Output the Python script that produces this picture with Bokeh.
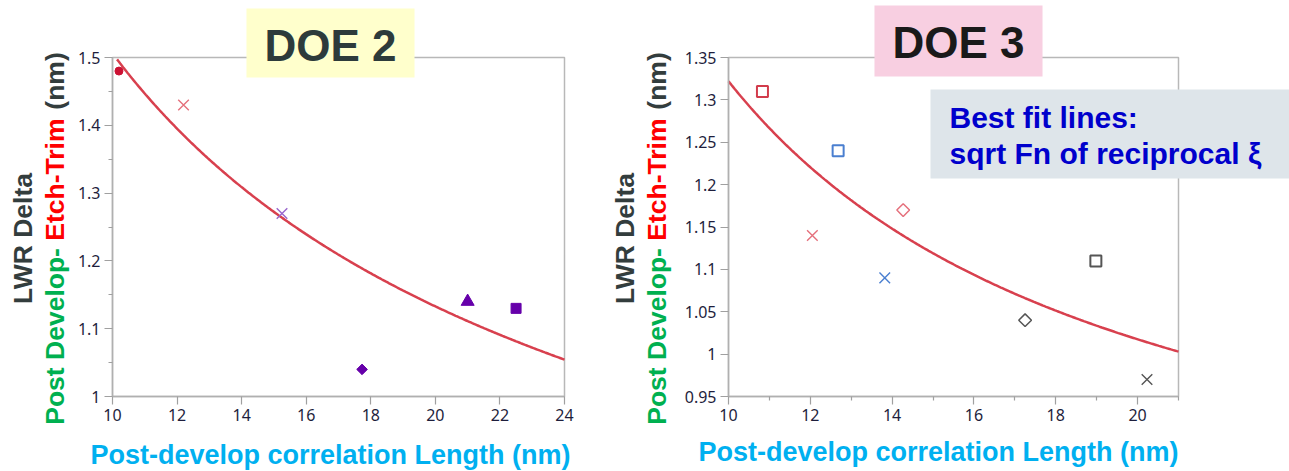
import numpy as np
from bokeh.plotting import figure
from bokeh.models import Label, FixedTicker, NumeralTickFormatter, LinearAxis, Range1d
from bokeh.layouts import row
from bokeh.embed import file_html
from bokeh.resources import INLINE

# ---------------- data ----------------
# DOE 2: LWR delta vs post-develop correlation length
doe2_x = [10.2, 12.2, 15.25, 17.73, 21.0, 22.5]
doe2_y = [1.48, 1.43, 1.27, 1.04, 1.14, 1.13]
doe2_marker = ["circle", "x", "x", "diamond", "triangle", "square"]
doe2_color = ["#cc1133", "#e5707c", "#9966cc", "#6600aa", "#6600aa", "#6600aa"]

# DOE 3
doe3_x = [10.83, 12.68, 12.05, 14.27, 13.82, 17.25, 18.98, 20.23]
doe3_y = [1.31, 1.24, 1.14, 1.17, 1.09, 1.04, 1.11, 0.97]
doe3_marker = ["square", "square", "x", "diamond", "x", "diamond", "square", "x"]
doe3_color = ["#d23c4c", "#4a7fd0", "#e5707c", "#e5707c", "#4a7fd0", "#555555", "#555555", "#555555"]

# best-fit curves  y = a + b * x**(-p)
doe2_fit = {"a": 0.232, "b": 4.029, "p": 0.5}
doe3_fit = {"a": 0.713, "b": 6.09, "p": 1.0}

# axis extents and ticks
doe2_xlim, doe2_ylim = (10, 24), (1.0, 1.5)
doe3_xlim, doe3_ylim = (10, 21), (0.95, 1.35)
doe2_xticks = [10, 12, 14, 16, 18, 20, 22, 24]
doe2_yticks = [1.0, 1.1, 1.2, 1.3, 1.4, 1.5]
doe2_yminor = [1.05, 1.15, 1.25, 1.35, 1.45]
doe3_xticks = [10, 12, 14, 16, 18, 20]
doe3_xminor = [11, 13, 15, 17, 19, 21]
doe3_yticks = [0.95, 1.0, 1.05, 1.1, 1.15, 1.2, 1.25, 1.3, 1.35]

x_title = "Post-develop correlation Length (nm)"
y_title_top = "LWR Delta"
y_title_parts = [("Post Develop- ", "#00b050"), ("Etch-Trim ", "#ff0000"), ("(nm)", "#333d3d")]

BOLD = "Liberation Sans"
TICKFONT = "Noto Sans"
H = 471

# Arial-bold advance widths (per 1000 em) for laying out coloured segments
_W = {"P": 667, "o": 611, "s": 556, "t": 333, " ": 278, "D": 722, "e": 556, "v": 556,
      "l": 278, "p": 611, "-": 333, "E": 667, "c": 556, "h": 611, "T": 611, "r": 389,
      "i": 278, "m": 889, "(": 333, "n": 611, ")": 333}


def text_width(s, size):
    return sum(_W.get(ch, 556) for ch in s) * size / 1000.0


class Panel:
    """A canvas whose data ranges place the plot box at a given pixel rectangle."""

    def __init__(self, width, box, xlim, ylim):
        self.width = width
        left, top, right, bottom = box
        self.sx = (xlim[1] - xlim[0]) / (right - left)
        self.sy = (ylim[1] - ylim[0]) / (bottom - top)
        self.x0 = xlim[0] - left * self.sx
        self.y1 = ylim[1] + top * self.sy
        xr = Range1d(self.x0, self.x0 + width * self.sx)
        yr = Range1d(self.y1 - H * self.sy, self.y1)
        p = figure(width=width, height=H, x_range=xr, y_range=yr,
                   x_axis_location=None, y_axis_location=None,
                   min_border=0, output_backend="svg", toolbar_location=None)
        p.xgrid.visible = False
        p.ygrid.visible = False
        p.outline_line_color = None
        p.background_fill_color = "white"
        p.border_fill_color = "white"
        # plot box outline
        p.quad(left=[xlim[0]], right=[xlim[1]], bottom=[ylim[0]], top=[ylim[1]],
               fill_color=None, line_color="#b8b8b8", line_width=1.5)
        xa = LinearAxis(fixed_location=ylim[0], bounds=xlim)
        ya = LinearAxis(fixed_location=xlim[0], bounds=ylim)
        for ax in (xa, ya):
            ax.axis_line_color = "#b0b0b0"
            ax.axis_line_width = 1.5
            ax.major_tick_line_color = "#a0a0a0"
            ax.minor_tick_line_color = "#a0a0a0"
            ax.major_tick_line_width = 1.2
            ax.minor_tick_line_width = 1.2
            ax.major_tick_in = 0
            ax.major_tick_out = 8
            ax.minor_tick_in = 0
            ax.minor_tick_out = 4
            ax.major_label_text_font = TICKFONT
            ax.major_label_text_font_size = "16px"
            ax.major_label_text_color = "#1e1e3c"
            ax.major_label_standoff = 4
            ax.formatter = NumeralTickFormatter(format="0.[00]")
        p.add_layout(xa, "below")
        p.add_layout(ya, "left")
        self.p, self.xa, self.ya = p, xa, ya

    def text(self, px, py, text, size, color, align="center", baseline="alphabetic",
             angle=0.0, **kw):
        lab = Label(x=self.x0 + px * self.sx, y=self.y1 - py * self.sy, text=text,
                    text_font=BOLD, text_font_style="bold", text_font_size=f"{size}px",
                    text_color=color, text_align=align, text_baseline=baseline,
                    angle=angle, **kw)
        self.p.add_layout(lab)
        return lab

    def axis_titles(self, x_center, x_base, y_base1, y_base2, y_center):
        self.text(x_center, x_base, x_title, 27, "#00b0f0")
        self.text(y_base1, y_center, y_title_top, 26.5, "#333d3d", angle=np.pi / 2)
        total = sum(text_width(s, 26.5) for s, _ in y_title_parts)
        pos = y_center + total / 2
        for s, col in y_title_parts:
            self.text(y_base2, pos, s, 26.5, col, align="left", angle=np.pi / 2)
            pos -= text_width(s, 26.5)


def fit_curve(fit, xlim, ylim, n=300):
    cx = np.linspace(xlim[0], xlim[1], n)
    cy = fit["a"] + fit["b"] * cx ** (-fit["p"])
    keep = (cy <= ylim[1]) & (cy >= ylim[0])
    return cx[keep], cy[keep]


# ---------------- DOE 2 ----------------
a = Panel(600, (112, 57, 564, 396), doe2_xlim, doe2_ylim)
a.xa.ticker = FixedTicker(ticks=doe2_xticks, minor_ticks=[])
a.ya.ticker = FixedTicker(ticks=doe2_yticks, minor_ticks=doe2_yminor)

cx, cy = fit_curve(doe2_fit, doe2_xlim, doe2_ylim)
a.p.line(cx, cy, line_color="#d8404e", line_width=2.5)

for xv, yv, mk, col in zip(doe2_x, doe2_y, doe2_marker, doe2_color):
    if mk == "x":
        a.p.scatter([xv], [yv], marker="x", size=15, line_color=col, line_width=1.4)
    elif mk == "diamond":
        a.p.scatter([xv], [yv], marker="square", angle=np.pi / 4, size=7.5,
                    fill_color=col, line_color=col)
    elif mk == "circle":
        a.p.scatter([xv], [yv], marker="circle", size=8, fill_color=col, line_color=col)
    elif mk == "triangle":
        a.p.scatter([xv], [yv], marker="triangle", size=13, fill_color=col, line_color=col)
    else:
        a.p.scatter([xv], [yv], marker="square", size=10, fill_color=col, line_color=col)

a.axis_titles(330, 454, 22, 54, 238)
a.text(330, 42.5, "DOE 2", 44, "#2d3b3b", baseline="middle",
       background_fill_color="#ffffcc", padding=(18, 18, 12, 8), level="overlay")

# ---------------- DOE 3 ----------------
# this canvas starts at page x = 600
b = Panel(689, (128, 57, 578, 396), doe3_xlim, doe3_ylim)
b.xa.ticker = FixedTicker(ticks=doe3_xticks, minor_ticks=doe3_xminor)
b.ya.ticker = FixedTicker(ticks=doe3_yticks, minor_ticks=[])

cx3, cy3 = fit_curve(doe3_fit, doe3_xlim, doe3_ylim)
b.p.line(cx3, cy3, line_color="#d8404e", line_width=2.5)

for xv, yv, mk, col in zip(doe3_x, doe3_y, doe3_marker, doe3_color):
    if mk == "x":
        b.p.scatter([xv], [yv], marker="x", size=15, line_color=col, line_width=1.4)
    elif mk == "diamond":
        b.p.scatter([xv], [yv], marker="square", angle=np.pi / 4, size=9,
                    fill_color=None, line_color=col, line_width=1.5)
    else:
        b.p.scatter([xv], [yv], marker="square", size=11, fill_color=None,
                    line_color=col, line_width=2)

b.axis_titles(338, 451, 24, 56, 238)
b.text(358, 40.5, "DOE 3", 44, "#1a1a1a", baseline="middle",
       background_fill_color="#f8cfe1", padding=(18, 18, 12, 10), level="overlay")
b.text(330, 89, "Best fit lines:\nsqrt Fn of reciprocal \u03be", 30,
       "#0000cc", align="left", baseline="top", text_line_height=1.12,
       background_fill_color="#dee5ea", padding=(19, 60, 11, 8), level="overlay")

layout = row(a.p, b.p)
open("out.html", "w").write(file_html(layout, INLINE))
